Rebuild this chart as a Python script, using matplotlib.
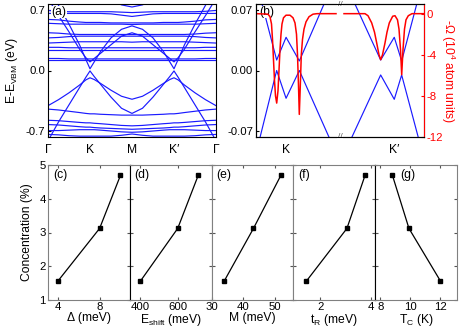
import matplotlib
matplotlib.use('Agg')
import matplotlib.pyplot as plt
import numpy as np

plt.rcParams['font.family'] = ['Liberation Sans', 'DejaVu Sans']
plt.rcParams['mathtext.default'] = 'regular'
plt.rcParams['axes.unicode_minus'] = False

# ---------------- panel (a): band structure ----------------
K_GRID = [0, 0.25, 0.5, 0.75, 0.9, 1.0, 1.1, 1.25, 1.5, 1.75, 2.0,
          2.25, 2.5, 2.75, 2.9, 3.0, 3.1, 3.25, 3.5, 3.75, 4.0]
K_TICKS = [0, 1, 2, 3, 4]
K_LABELS = ['Γ', 'K', 'M', 'K′', 'Γ']

band_c1 = [0.98, 0.76, 0.54, 0.30, 0.13, 0.02, 0.10, 0.22, 0.38, 0.48, 0.52,
           0.48, 0.38, 0.22, 0.10, 0.02, 0.13, 0.30, 0.54, 0.76, 0.98]
band_c2 = [0.84, 0.64, 0.45, 0.25, 0.15, 0.10, 0.14, 0.20, 0.30, 0.40, 0.44,
           0.40, 0.30, 0.20, 0.14, 0.10, 0.15, 0.25, 0.45, 0.64, 0.84]
band_top = [1.6, 1.4, 1.2, 1.0, 0.95, 0.92, 0.90, 0.86, 0.82, 0.765, 0.74,
            0.765, 0.82, 0.86, 0.90, 0.92, 0.95, 1.0, 1.2, 1.4, 1.6]
band_f1 = [0.70, 0.69, 0.685, 0.685, 0.685, 0.685, 0.685, 0.685, 0.685, 0.68, 0.675,
           0.68, 0.685, 0.685, 0.685, 0.685, 0.685, 0.685, 0.685, 0.69, 0.70]
band_f2 = [0.665, 0.665, 0.665, 0.665, 0.665, 0.665, 0.665, 0.665, 0.66, 0.645, 0.63,
           0.645, 0.66, 0.665, 0.665, 0.665, 0.665, 0.665, 0.665, 0.665, 0.665]
band_f3 = [0.595, 0.59, 0.575, 0.565, 0.56, 0.56, 0.56, 0.56, 0.555, 0.555, 0.555,
           0.555, 0.555, 0.56, 0.56, 0.56, 0.56, 0.565, 0.575, 0.59, 0.595]
band_f4 = [0.55, 0.545, 0.54, 0.54, 0.54, 0.54, 0.54, 0.54, 0.54, 0.54, 0.535,
           0.54, 0.54, 0.54, 0.54, 0.54, 0.54, 0.54, 0.54, 0.545, 0.55]
band_f5 = [0.44, 0.435, 0.425, 0.42, 0.42, 0.42, 0.42, 0.42, 0.42, 0.42, 0.42,
           0.42, 0.42, 0.42, 0.42, 0.42, 0.42, 0.42, 0.425, 0.435, 0.44]
band_f6 = [0.38, 0.385, 0.395, 0.40, 0.40, 0.40, 0.40, 0.40, 0.40, 0.40, 0.40,
           0.40, 0.40, 0.40, 0.40, 0.40, 0.40, 0.40, 0.395, 0.385, 0.38]
band_f7 = [0.32, 0.325, 0.33, 0.335, 0.335, 0.335, 0.335, 0.335, 0.335, 0.335, 0.33,
           0.335, 0.335, 0.335, 0.335, 0.335, 0.335, 0.335, 0.33, 0.325, 0.32]
band_f8 = [0.27, 0.27, 0.265, 0.265, 0.265, 0.265, 0.265, 0.265, 0.265, 0.265, 0.265,
           0.265, 0.265, 0.265, 0.265, 0.265, 0.265, 0.265, 0.265, 0.27, 0.27]
band_f9 = [0.24, 0.24, 0.24, 0.24, 0.24, 0.24, 0.24, 0.24, 0.24, 0.24, 0.24,
           0.24, 0.24, 0.24, 0.24, 0.24, 0.24, 0.24, 0.24, 0.24, 0.24]
band_f10 = [0.14, 0.14, 0.135, 0.135, 0.135, 0.135, 0.135, 0.135, 0.135, 0.135, 0.135,
            0.135, 0.135, 0.135, 0.135, 0.135, 0.135, 0.135, 0.135, 0.14, 0.14]
band_f11 = [0.12, 0.12, 0.12, 0.12, 0.12, 0.12, 0.12, 0.12, 0.12, 0.12, 0.12,
            0.12, 0.12, 0.12, 0.12, 0.12, 0.12, 0.12, 0.12, 0.12, 0.12]
band_v1 = [-0.82, -0.60, -0.40, -0.20, -0.08, -0.005, -0.07, -0.16, -0.31, -0.44, -0.50,
           -0.44, -0.31, -0.16, -0.07, -0.005, -0.08, -0.20, -0.40, -0.60, -0.82]
band_v2 = [-0.41, -0.34, -0.26, -0.17, -0.11, -0.085, -0.105, -0.15, -0.23, -0.30, -0.335,
           -0.30, -0.23, -0.15, -0.105, -0.085, -0.11, -0.17, -0.26, -0.34, -0.41]
band_v3 = [-0.45, -0.46, -0.475, -0.49, -0.50, -0.505, -0.505, -0.51, -0.515, -0.52, -0.52,
           -0.52, -0.515, -0.51, -0.505, -0.505, -0.50, -0.49, -0.475, -0.46, -0.45]
band_v4 = [-0.58, -0.585, -0.595, -0.605, -0.61, -0.61, -0.615, -0.62, -0.63, -0.64, -0.645,
           -0.64, -0.63, -0.62, -0.615, -0.61, -0.61, -0.605, -0.595, -0.585, -0.58]
band_v5 = [-0.63, -0.635, -0.645, -0.655, -0.66, -0.66, -0.665, -0.67, -0.675, -0.68, -0.685,
           -0.68, -0.675, -0.67, -0.665, -0.66, -0.66, -0.655, -0.645, -0.635, -0.63]
band_v6 = [-0.70, -0.70, -0.695, -0.69, -0.69, -0.69, -0.69, -0.695, -0.705, -0.715, -0.72,
           -0.715, -0.705, -0.695, -0.69, -0.69, -0.69, -0.69, -0.695, -0.70, -0.70]
band_v7 = [-0.745, -0.75, -0.76, -0.765, -0.765, -0.765, -0.765, -0.765, -0.765, -0.755, -0.74,
           -0.755, -0.765, -0.765, -0.765, -0.765, -0.765, -0.765, -0.76, -0.75, -0.745]

BANDS_A = [band_c1, band_c2, band_top, band_f1, band_f2, band_f3, band_f4, band_f5,
           band_f6, band_f7, band_f8, band_f9, band_f10, band_f11,
           band_v1, band_v2, band_v3, band_v4, band_v5, band_v6, band_v7]

# ---------------- panel (b): zoom near K and K' ----------------
B_K_TICKS = [0.179, 0.823]
B_K_LABELS = ['K', 'K′']
b_cond_K_x = [0.036, 0.123, 0.179, 0.258, 0.405]
b_cond_K_e = [0.0775, 0.0122, 0.0387, 0.0111, 0.0775]
b_val_K_x = [0.024, 0.123, 0.179, 0.258, 0.435]
b_val_K_e = [-0.0779, 0.0, -0.0324, 0.0, -0.0779]
b_cond_Kp_x = [0.589, 0.742, 0.823, 0.867, 0.957]
b_cond_Kp_e = [0.0775, 0.0122, 0.0387, 0.0111, 0.0775]
b_val_Kp_x = [0.570, 0.742, 0.823, 0.867, 0.966]
b_val_Kp_e = [-0.078, -0.0052, -0.0336, -0.0052, -0.078]

# Berry curvature  -Omega (10^4 atomic units)
omega_x_px = [256, 268, 270, 271.5, 272.5, 273.5, 274.5, 275.5, 276.7, 278, 279, 280, 281, 282,
              283.5, 286, 290, 293, 295, 296.5, 297.5, 298.5, 299.3, 300.3, 301.3, 302.5, 304,
              306, 309, 313, 317, 336, None, 344, 365, 368, 371.7, 374.5, 376.7, 379, 380.7,
              382.5, 385, 387, 389.3, 392.7, 395, 397.5, 399, 400.5, 401.7, 403, 404.5, 406,
              408.3, 412, 424]
omega_val = [0, -0.05, -0.3, -1.0, -2.5, -4.5, -6.5, -8.0, -8.7, -7.5, -5.5, -3.5, -2.0, -1.0,
             -0.4, -0.15, -0.15, -0.4, -0.9, -2.0, -4.0, -7.0, -9.8, -7.0, -4.0, -2.5, -1.5,
             -0.8, -0.3, -0.05, 0, 0, None, 0, 0, -0.2, -0.9, -1.8, -2.85, -4.0, -4.48,
             -4.0, -2.85, -1.8, -0.9, -0.25, -0.2, -0.6, -1.5, -3.5, -5.94, -3.5, -1.5, -0.6,
             -0.2, 0, 0]

# ---------------- panels (c)-(g) ----------------
CONC = [1.56, 3.12, 4.69]
DELTA = [4, 8, 10]
ESHIFT = [400, 600, 710]
MEX = [34, 43.3, 52]
TR = [1.46, 3.05, 3.76]
TC = [12, 9.9, 8.8]
CONC_TC = [1.56, 3.12, 4.69]

W, H = 463, 331
def rect(l, t, r, b):
    return [l / W, 1 - b / H, (r - l) / W, (b - t) / H]

fig = plt.figure(figsize=(W / 100, H / 100), dpi=100)
BLUE = '#1a1aff'
FS_L = 8.2

# (a)
axA = fig.add_axes(rect(48, 4, 216, 137))
for band in BANDS_A:
    axA.plot(K_GRID, band, color=BLUE, lw=0.85)
axA.set_xlim(0, 4)
axA.set_ylim(-0.775, 0.775)
axA.set_xticks(K_TICKS)
axA.set_xticklabels(K_LABELS, fontsize=FS_L + 0.5)
axA.set_yticks([-0.7, 0.0, 0.7])
axA.set_yticklabels(['-0.7', '0.0', '0.7'], fontsize=FS_L)
axA.tick_params(axis='x', length=0, pad=5)
axA.tick_params(axis='y', direction='in', length=2.5, pad=2)
axA.set_ylabel('E-E$_{VBM}$ (eV)', fontsize=FS_L + 0.5, labelpad=4)
axA.text(0.02, 0.985, '(a)', transform=axA.transAxes, ha='left', va='top',
         fontsize=FS_L + 0.5, bbox=dict(facecolor='white', edgecolor='none', pad=0.3))

# (b)
axB = fig.add_axes(rect(256, 4, 424, 137))
for xs, es in [(b_cond_K_x, b_cond_K_e), (b_val_K_x, b_val_K_e),
               (b_cond_Kp_x, b_cond_Kp_e), (b_val_Kp_x, b_val_Kp_e)]:
    axB.plot(xs, es, color=BLUE, lw=0.85)
axB.set_xlim(0, 1)
axB.set_ylim(-0.0775, 0.0775)
axB.set_xticks(B_K_TICKS)
axB.set_xticklabels(B_K_LABELS, fontsize=FS_L + 0.5)
axB.set_yticks([-0.07, 0.0, 0.07])
axB.set_yticklabels(['-0.07', '0.00', '0.07'], fontsize=FS_L)
axB.tick_params(axis='x', length=0, pad=5)
axB.tick_params(axis='y', direction='in', length=2.5, pad=2)
axB2 = axB.twinx()
ox = [np.nan if v is None else (v - 256) / 168 for v in omega_x_px]
oy = [np.nan if v is None else v for v in omega_val]
axB2.plot(ox, oy, color='red', lw=1.1)
axB2.set_ylim(-12, 0.94)
axB2.set_yticks([-12, -8, -4, 0])
axB2.set_yticklabels(['-12', '-8', '-4', '0'], fontsize=FS_L, color='red')
axB2.tick_params(axis='y', direction='in', length=2.5, pad=2, colors='red')
axB2.spines['right'].set_color('red')
axB2.set_ylabel('-Ω (10$^4$ atom units)', fontsize=FS_L + 0.5, color='red',
                rotation=270, labelpad=10)
for yy in (1.0, 0.0):
    axB.text(0.5, yy, '//', transform=axB.transAxes, ha='center', va='center',
             fontsize=6, color='#555555',
             bbox=dict(facecolor='white', edgecolor='none', pad=0.2), zorder=10)
axB.text(0.02, 0.985, '(b)', transform=axB.transAxes, ha='left', va='top',
         fontsize=FS_L + 0.5, bbox=dict(facecolor='white', edgecolor='none', pad=0.3))

# (c)-(g)
panel_w = (457 - 48) / 5
xs_list = [DELTA, ESHIFT, MEX, TR, TC]
ys_list = [CONC, CONC, CONC, CONC, CONC_TC]
xlims = [(3.05, 10.9), (343, 782), (30, 56), (0.95, 4.16), (7.65, 13.1)]
xticks = [[4, 8], [400, 600], [30, 40, 50], [2, 4], [8, 10, 12]]
xlabels = ['Δ (meV)', 'E$_{shift}$ (meV)', 'M (meV)', 't$_R$ (meV)', 'T$_C$ (K)']
tags = ['(c)', '(d)', '(e)', '(f)', '(g)']
tag_x = [0.06, 0.06, 0.06, 0.06, 0.31]
axes_bot = []
for i in range(5):
    l = 48 + i * panel_w
    ax = fig.add_axes(rect(l, 165, l + panel_w, 300))
    ax.plot(xs_list[i], ys_list[i], color='black', lw=0.9, marker='s', ms=3.2)
    ax.set_xlim(*xlims[i])
    ax.set_ylim(1, 5)
    ax.set_xticks(xticks[i])
    ax.set_xticklabels([str(t) for t in xticks[i]], fontsize=FS_L)
    ax.set_yticks([1, 2, 3, 4, 5])
    ax.tick_params(direction='in', length=2.5, top=True, right=True, pad=1.5,
                   color='#555555')
    if i == 0:
        ax.set_yticklabels(['1', '2', '3', '4', '5'], fontsize=FS_L)
        ax.set_ylabel('Concentration (%)', fontsize=FS_L + 0.5, labelpad=5)
    else:
        ax.set_yticklabels([])
    ax.set_xlabel(xlabels[i], fontsize=FS_L + 0.5, labelpad=0)
    for s in ax.spines.values():
        s.set_color('#808080')
    ax.text(tag_x[i], 0.97, tags[i], transform=ax.transAxes, ha='left', va='top',
            fontsize=FS_L + 0.5)
    axes_bot.append(ax)
axes_bot[0].spines['right'].set_color('black')
axes_bot[1].spines['left'].set_color('black')
axes_bot[3].spines['right'].set_color('black')
axes_bot[4].spines['left'].set_color('black')

fig.savefig('out.png', dpi=100)
